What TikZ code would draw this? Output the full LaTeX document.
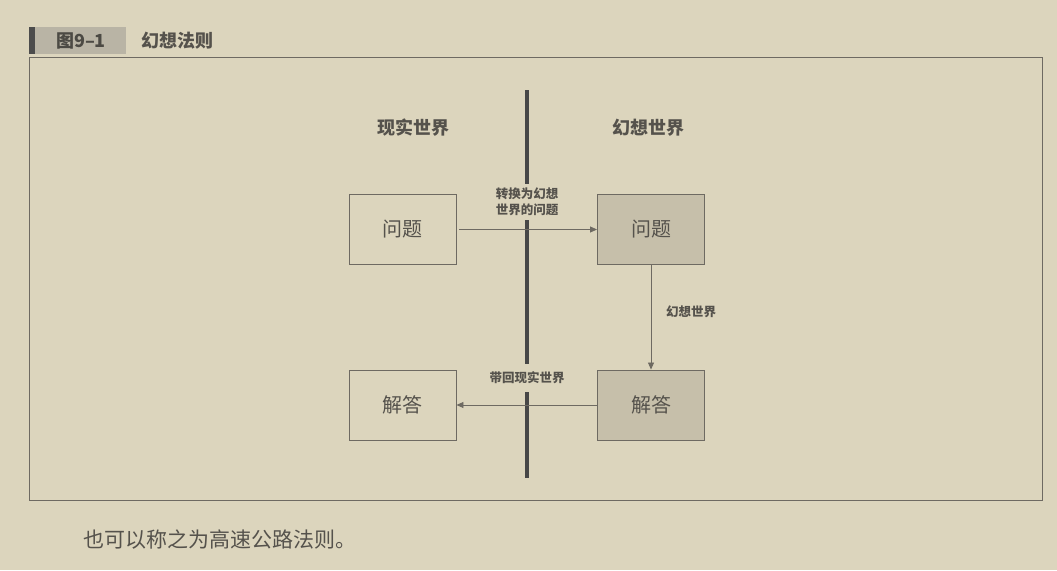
\documentclass[tikz,border=0pt]{standalone}
\usepackage{fontspec}
\setmainfont{Noto Sans CJK SC}
\usetikzlibrary{arrows.meta}
\definecolor{paper}{RGB}{220,213,189}
\definecolor{ink}{RGB}{85,82,76}
\definecolor{edge}{RGB}{110,106,98}
\definecolor{shade}{RGB}{198,191,170}
\definecolor{tabgray}{RGB}{185,180,165}
\begin{document}
\begin{tikzpicture}[x=1pt,y=-1pt,
  box/.style={draw=edge, line width=0.9pt, minimum width=107pt, minimum height=70pt, inner sep=0pt,
    font=\fontsize{20}{22}\selectfont, text=ink},
  dark/.style={box, fill=shade},
  lab/.style={font=\bfseries\fontsize{12.5}{16}\selectfont, text=ink, fill=paper, align=center, inner xsep=2pt},
  head/.style={font=\bfseries\fontsize{18}{20}\selectfont, text=ink},
  link/.style={draw=edge, line width=0.8pt, -{Triangle[length=7pt,width=6pt]}}]
\fill[paper] (0,0) rectangle (1057,570);
\useasboundingbox (0,0) rectangle (1057,570);
% title tab
\fill[black!70] (29,27) rectangle (35,54);
\fill[tabgray] (35,27) rectangle (126,54);
\node[font=\bfseries\fontsize{18}{20}\selectfont, text=ink!90!black] (fig) at (81,41) {图9–1};
\node[font=\bfseries\fontsize{18}{20}\selectfont, text=ink, anchor=west] (title) at (138,41) {幻想法则};
% frame
\draw[edge, line width=0.9pt] (29,57) rectangle (1042,500);
% divider
\coordinate (dtop) at (527,90);
\coordinate (dbot) at (527,478);
\draw[black!72, line width=3.5pt] (dtop) -- (dbot);
% headers
\node[head] (real) at (413,128) {现实世界};
\node[head] (fant) at (648,128) {幻想世界};
% boxes
\node[box] (q1) at (402.5,229.5) {问题};
\node[dark] (q2) at (651,229.5) {问题};
\node[box] (a1) at (402.5,405) {解答};
\node[dark] (a2) at (651,405) {解答};
% connectors
\draw[link] ([xshift=3pt]q1.east) -- (q2.west);
\draw[link] (q2.south) -- (a2.north);
\draw[link] (a2.west) -- (a1.east);
% connector labels
\node[lab, inner ysep=4pt] (l1) at (527,202) {转换为幻想\\世界的问题};
\node[lab, inner ysep=8pt] (l2) at (527,378) {带回现实世界};
\node[lab, fill=none, anchor=west] (l3) at (664,312) {幻想世界};
% caption
\node[font=\fontsize{21}{24}\selectfont, text=ink, anchor=west] (cap) at (80,540) {也可以称之为高速公路法则。};
\end{tikzpicture}
\end{document}
